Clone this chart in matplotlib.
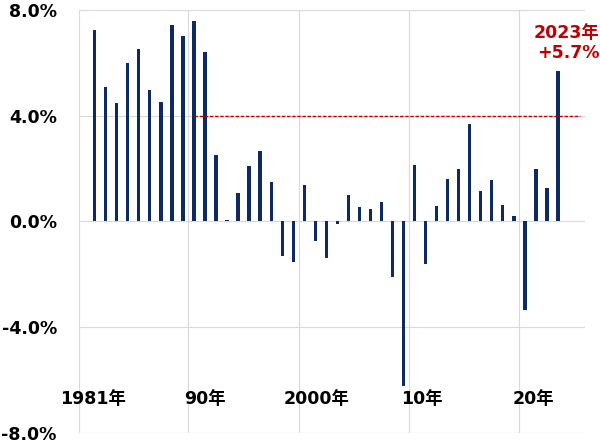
import numpy as np
import matplotlib
matplotlib.use("Agg")
from matplotlib import pyplot as plt

plt.rcParams['font.family'] = ['DejaVu Sans', 'Noto Sans CJK JP']

# yearly growth rate, %
years = list(range(1981, 2024))
growth = [7.23, 5.09, 4.47, 6.01, 6.53, 4.97, 4.53, 7.42, 7.03, 7.58,
          6.42, 2.50, 0.05, 1.09, 2.08, 2.67, 1.49, -1.29, -1.55, 1.38,
          -0.72, -1.38, -0.08, 1.02, 0.55, 0.49, 0.75, -2.11, -6.23, 2.14,
          -1.60, 0.59, 1.61, 1.98, 3.68, 1.16, 1.57, 0.63, 0.19, -3.33,
          1.98, 1.28, 5.69]

ytick_vals = [-8, -4, 0, 4, 8]
ytick_labels = ['-8.0%', '-4.0%', '0.0%', '4.0%', '8.0%']

xlabel_pos = [1980.85, 1991.0, 2001.1, 2010.7, 2020.8]
xlabel_text = ['1981年', '90年', '2000年', '10年', '20年']
decade_lines = [1989.5, 1999.5, 2009.5, 2019.5]

ref_level = 4.0

navy = '#0E2A63'
red = '#C00000'
grid_c = '#D9D9D9'

fig = plt.figure(figsize=(6.0, 4.42), dpi=100)
ax = fig.add_axes([0.1317, 0.0204, 0.8433, 0.957])

ax.set_xlim(1979.58, 2025.45)
ax.set_ylim(-8, 8)

# grid
for v in ytick_vals:
    ax.axhline(v, color=grid_c, linewidth=0.8, zorder=0)
for x in decade_lines + [1979.58]:
    ax.axvline(x, color=grid_c, linewidth=0.8, zorder=0)

ax.bar(years, growth, width=0.3, color=navy, zorder=2)

# 4% reference line from 1990 onwards
ax.plot([1990, 2025.0], [ref_level, ref_level], color=red, linestyle=(0, (2.5, 1.2)),
        linewidth=1.0, zorder=3)

for s in ax.spines.values():
    s.set_visible(False)
ax.set_xticks([])
ax.set_yticks(ytick_vals)
ax.set_yticklabels(ytick_labels, fontsize=12.5, fontweight='bold')
ax.tick_params(axis='y', length=0, pad=16)

for x, t in zip(xlabel_pos, xlabel_text):
    ax.text(x, -6.73, t, ha='center', va='center', fontsize=12.5, fontweight='bold')

ax.text(2026.75, 6.75, '2023年\n+5.7%', ha='right', va='center', fontsize=12.5,
        fontweight='bold', color=red, linespacing=1.2, clip_on=False)

fig.savefig('out.png', dpi=100)
